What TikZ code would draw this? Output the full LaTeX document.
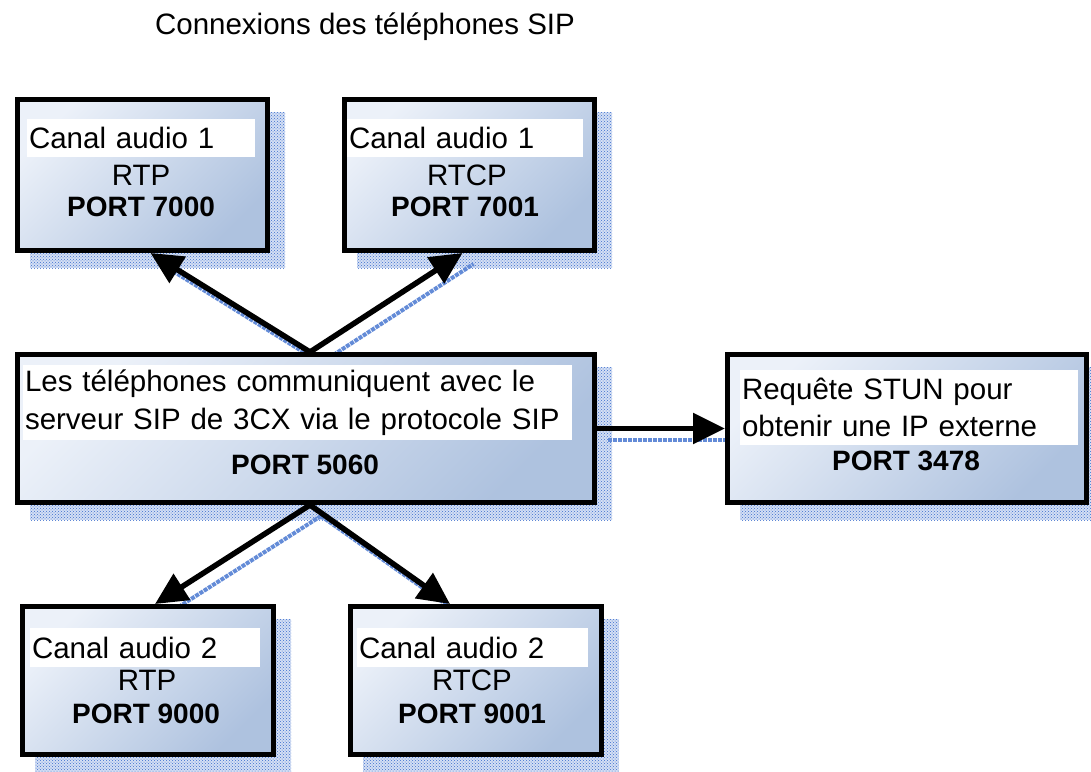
\documentclass[tikz,border=0pt]{standalone}
\usepackage{fontspec}
\setmainfont{Liberation Sans}
\usetikzlibrary{arrows.meta,patterns,positioning,calc,backgrounds}
\definecolor{boxlight}{RGB}{236,241,249}
\definecolor{boxdark}{RGB}{174,194,223}
\definecolor{shadowblue}{RGB}{60,110,205}
\newcommand{\txtsize}{\fontsize{29.5}{37.5}\selectfont}
\newcommand{\portsize}{\fontsize{28}{34}\selectfont\bfseries}
\tikzstyle{portbox} = [draw=black, line width=5pt, top color=boxlight, bottom color=boxdark, shading angle=45, inner sep=0pt]
\tikzstyle{dotshadow} = [fill=shadowblue!22, postaction={pattern=crosshatch dots, pattern color=shadowblue}]
\tikzstyle{band} = [fill=white, inner sep=2pt, align=left, font=\txtsize]
\tikzstyle{arrow} = [line width=5.5pt, -{Triangle[length=32pt,width=30pt]}]
\tikzstyle{arrowshadow} = [line width=4pt, draw=shadowblue!80, densely dotted, transform canvas={shift={(11pt,-11pt)}}]

\begin{document}
\begin{tikzpicture}[x=1pt,y=-1pt]
\useasboundingbox (0,0) rectangle (1091,771);
\node (title) at (365,27) {\txtsize Connexions des téléphones SIP};
% boxes
\node (rtpa) [portbox, minimum width=250pt, minimum height=151pt] at (142.5,175) {};
\node (rtcpa) [portbox, minimum width=250pt, minimum height=151pt] at (469.5,175) {};
\node (hub) [portbox, minimum width=577pt, minimum height=148pt] at (306,428.5) {};
\node (stun) [portbox, minimum width=359pt, minimum height=148pt] at (907,428.5) {};
\node (rtpb) [portbox, minimum width=251pt, minimum height=148pt] at (148,680.5) {};
\node (rtcpb) [portbox, minimum width=251pt, minimum height=148pt] at (476,680.5) {};
% shadows
\begin{scope}[on background layer]
\foreach \b in {rtpa,rtcpa,hub,stun,rtpb,rtcpb}
  \fill[dotshadow] ([shift={(15,15)}]\b.north west) rectangle ([shift={(15,15)}]\b.south east);
\draw[arrowshadow] ([xshift=4]hub.north) -- ([xshift=8]rtpa.south);
\draw[arrowshadow] ([xshift=4]hub.north) -- ([xshift=-7]rtcpa.south);
\draw[arrowshadow] ([xshift=4]hub.south) -- ([xshift=7]rtpb.north);
\draw[arrowshadow] ([xshift=4]hub.south) -- ([xshift=-26]rtcpb.north);
\draw[arrowshadow] (hub.east) -- (stun.west);
\end{scope}
% white bands
\node (rtpa-band) [band, text width=224pt, minimum height=38pt] at (141,138) {Canal audio 1};
\node (rtcpa-band) [band, text width=232pt, minimum height=38pt] at (465,138) {Canal audio 1};
\node (rtpb-band) [band, text width=226pt, minimum height=39pt] at (145,647.5) {Canal audio 2};
\node (rtcpb-band) [band, text width=227pt, minimum height=39pt] at (472.5,647.5) {Canal audio 2};
\node (hub-band) [band, text width=545pt, minimum height=75pt] at (297.5,402.5) {Les téléphones communiquent avec le\\serveur SIP de 3CX via le protocole SIP};
\node (stun-band) [band, text width=334pt, minimum height=75pt] at (909,407.5) {Requête STUN pour\\obtenir une IP externe};
% protocols and ports
\node (rtpa-proto) at (141,175) {\txtsize RTP};
\node (rtpa-port) at (141,207) {\portsize PORT 7000};
\node (rtcpa-proto) at (467,175) {\txtsize RTCP};
\node (rtcpa-port) at (465,207) {\portsize PORT 7001};
\node (rtpb-proto) at (147,680) {\txtsize RTP};
\node (rtpb-port) at (146,714) {\portsize PORT 9000};
\node (rtcpb-proto) at (472,680) {\txtsize RTCP};
\node (rtcpb-port) at (472,714) {\portsize PORT 9001};
\node (hub-port) at (305,465) {\portsize PORT 5060};
\node (stun-port) at (906,461) {\portsize PORT 3478};
% arrows
\draw[arrow] ([xshift=4]hub.north) -- ([xshift=8]rtpa.south);
\draw[arrow] ([xshift=4]hub.north) -- ([xshift=-7]rtcpa.south);
\draw[arrow] ([xshift=4]hub.south) -- ([xshift=7]rtpb.north);
\draw[arrow] ([xshift=4]hub.south) -- ([xshift=-26]rtcpb.north);
\draw[arrow] (hub.east) -- (stun.west);
\end{tikzpicture}
\end{document}
